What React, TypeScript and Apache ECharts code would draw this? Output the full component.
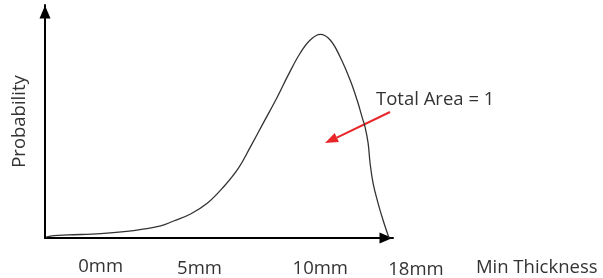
import React, { useEffect, useRef } from "react";
import * as echarts from "echarts";

// Curve samples (x in arbitrary thickness units 0..100, y = relative probability)
const curveX = [0.29, 2.58, 6.59, 16.05, 25.5, 33.24, 36.96, 41.83, 46.7, 51.29, 55.59, 59.03, 62.75, 66.76, 69.91, 73.35, 76.22, 79.08, 81.95, 84.81, 87.68, 89.68, 91.12, 91.98, 92.84, 93.41, 94.27, 95.7, 97.13, 98.85];
const curveY = [0.004, 0.010, 0.013, 0.019, 0.032, 0.052, 0.073, 0.103, 0.150, 0.219, 0.300, 0.391, 0.494, 0.605, 0.700, 0.794, 0.850, 0.874, 0.850, 0.777, 0.678, 0.592, 0.519, 0.476, 0.408, 0.322, 0.236, 0.150, 0.077, 0.0];

// Tick labels and where they sit along the x axis (axis units)
const tickLabels = ["0mm", "5mm", "10mm", "18mm"];
const tickPositions = [16.0, 44.4, 79.1, 106.6];
const xTitle = "Min Thickness";
const xTitlePosition = 141.3;
const yTitle = "Probability";
const annotationText = "Total Area = 1";

// Layout only (pixel offsets below the x axis)
const tickLabelDy = [26.5, 28.5, 28, 29];
const xTitleDy = 27;

export default function App() {
  const ref = useRef<HTMLDivElement>(null);
  useEffect(() => {
    const chart = echarts.init(ref.current!, null, { renderer: "svg" });
    const fontFamily = "'Open Sans', 'Noto Sans', sans-serif";
    const fontSize = 18.5;
    const textColor = "#333333";
    const axisLine = (show: boolean) => ({
      show,
      symbol: ["none", "triangle"],
      symbolSize: [11, 13],
      symbolOffset: [0, -7],
      lineStyle: { color: "#000000", width: 2 },
    });
    chart.setOption({
      animation: false,
      grid: { left: 44, right: 210, top: 5, bottom: 40 },
      xAxis: {
        type: "value",
        min: 0,
        max: 100,
        axisLine: axisLine(true),
        axisTick: { show: false },
        axisLabel: { show: false },
        splitLine: { show: false },
      },
      yAxis: {
        type: "value",
        min: 0,
        max: 1,
        name: yTitle,
        nameLocation: "middle",
        nameGap: 18,
        nameTextStyle: { color: textColor, fontSize, fontFamily },
        axisLine: axisLine(true),
        axisTick: { show: false },
        axisLabel: { show: false },
        splitLine: { show: false },
      },
      series: [
        {
          type: "line",
          data: curveX.map((x, i) => [x, curveY[i]]),
          smooth: 0.4,
          showSymbol: false,
          silent: true,
          lineStyle: { color: "#333333", width: 1.3 },
        },
      ],
    });

    const axisPixY = chart.convertToPixel({ yAxisIndex: 0 }, 0) as number;
    const textStyle = (text: string, align: string) => ({
      text,
      fill: textColor,
      fontSize,
      fontFamily,
      align,
      textAlign: align,
      verticalAlign: "middle",
      textVerticalAlign: "middle",
    });
    const graphics: any[] = tickLabels.map((t, i) => ({
      type: "text",
      x: chart.convertToPixel({ xAxisIndex: 0 }, tickPositions[i]) as number,
      y: axisPixY + tickLabelDy[i],
      style: textStyle(t, "center"),
    }));
    graphics.push({
      type: "text",
      x: chart.convertToPixel({ xAxisIndex: 0 }, xTitlePosition) as number,
      y: axisPixY + xTitleDy,
      style: textStyle(xTitle, "center"),
    });
    graphics.push({
      type: "text",
      x: 376,
      y: 97.5,
      style: textStyle(annotationText, "left"),
    });
    graphics.push({
      type: "line",
      shape: { x1: 390, y1: 112, x2: 336.8, y2: 137.6 },
      style: { stroke: "#e8262a", lineWidth: 2 },
    });
    graphics.push({
      type: "polygon",
      shape: { points: [[325, 143], [338.9, 142.1], [334.7, 133.1]] },
      style: { fill: "#e8262a" },
    });
    chart.setOption({ graphic: graphics });

    return () => chart.dispose();
  }, []);
  return (
    <div
      ref={ref}
      style={{ position: "fixed", left: 0, top: 0, width: 603, height: 278 }}
    />
  );
}
